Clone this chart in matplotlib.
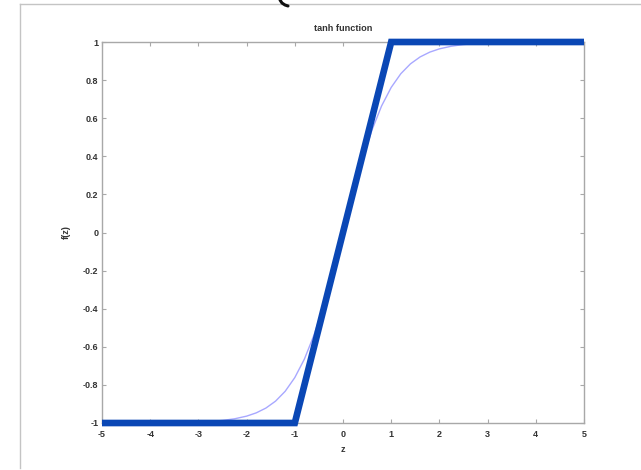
import matplotlib
matplotlib.use("Agg")
import matplotlib.pyplot as plt
from matplotlib.lines import Line2D

# smooth tanh curve, sampled values
z_tanh = [-5.0, -4.5, -4.0, -3.5, -3.0, -2.75, -2.5, -2.25, -2.0, -1.8, -1.6, -1.4,
          -1.2, -1.0, -0.8, -0.6, -0.4, -0.2, 0.0, 0.2, 0.4, 0.6, 0.8, 1.0, 1.2,
          1.4, 1.6, 1.8, 2.0, 2.25, 2.5, 2.75, 3.0, 3.5, 4.0, 4.5, 5.0]
f_tanh = [-0.9999, -0.9998, -0.9993, -0.9982, -0.9951, -0.9918, -0.9866, -0.9780,
          -0.9640, -0.9468, -0.9217, -0.8854, -0.8337, -0.7616, -0.6640, -0.5370,
          -0.3799, -0.1974, 0.0, 0.1974, 0.3799, 0.5370, 0.6640, 0.7616, 0.8337,
          0.8854, 0.9217, 0.9468, 0.9640, 0.9780, 0.9866, 0.9918, 0.9951, 0.9982,
          0.9993, 0.9998, 0.9999]

# piecewise-linear "hard tanh"
z_hard = [-5, -1, 1, 5]
f_hard = [-1, -1, 1, 1]

x_ticks = [-5, -4, -3, -2, -1, 0, 1, 2, 3, 4, 5]
y_ticks = [-1, -0.8, -0.6, -0.4, -0.2, 0, 0.2, 0.4, 0.6, 0.8, 1]
y_tick_labels = ["-1", "-0.8", "-0.6", "-0.4", "-0.2", "0", "0.2", "0.4", "0.6", "0.8", "1"]

plt.rcParams["font.family"] = ["Liberation Sans", "DejaVu Sans"]

W, H = 641, 470
fig = plt.figure(figsize=(W / 100, H / 100), dpi=100)
fig.patch.set_facecolor("white")

# outer frame of the slide
frame_color = "#c4c4c4"
fig.add_artist(Line2D([20 / W, 1.0], [1 - 4 / H, 1 - 4 / H], transform=fig.transFigure,
                      color=frame_color, lw=1.0))
fig.add_artist(Line2D([20 / W, 20 / W], [1 - 4 / H, 1 - 468 / H], transform=fig.transFigure,
                      color=frame_color, lw=1.0))
# small stroke peeking in at the top edge
fig.add_artist(Line2D([280 / W, 282 / W, 285 / W, 288 / W],
                      [1.0, 1 - 3 / H, 1 - 5 / H, 1 - 6 / H],
                      transform=fig.transFigure, color="#111111", lw=2.2,
                      solid_capstyle="round"))

left, right = 102 / W, 584 / W
bottom, top = 1 - 423 / H, 1 - 42 / H
ax = fig.add_axes([left, bottom, right - left, top - bottom])

ax.plot(z_tanh, f_tanh, color="#a8a8ff", lw=1.0, zorder=2)
ax.plot(z_hard, f_hard, color="#0a47b5", lw=4.8, solid_capstyle="butt",
        solid_joinstyle="miter", clip_on=False, zorder=3)

ax.set_xlim(-5, 5)
ax.set_ylim(-1, 1)
ax.set_xticks(x_ticks)
ax.set_xticklabels([str(t) for t in x_ticks])
ax.set_yticks(y_ticks)
ax.set_yticklabels(y_tick_labels)

spine_color = "#a8a8a8"
for s in ax.spines.values():
    s.set_color(spine_color)
    s.set_linewidth(1.0)

ax.tick_params(direction="in", length=3, width=0.8, color=spine_color,
               top=True, right=True, labelsize=6.5, labelcolor="#333333")
ax.tick_params(axis="x", pad=5)
ax.tick_params(axis="y", pad=2.5)
for lab in ax.get_xticklabels() + ax.get_yticklabels():
    lab.set_fontweight("bold")

ax.set_title("tanh function", fontsize=6.6, color="#333333", pad=8, fontweight="bold")
ax.set_xlabel("z", fontsize=6.6, color="#333333", labelpad=4, fontweight="bold")
ax.set_ylabel("f(z)", fontsize=6.6, color="#333333", labelpad=9, fontweight="bold")

fig.savefig("out.png", dpi=100, facecolor="white")
